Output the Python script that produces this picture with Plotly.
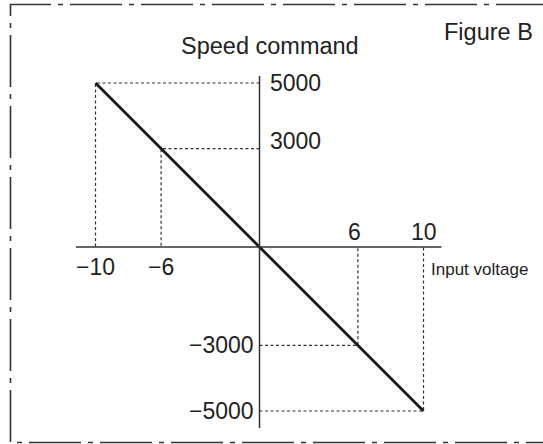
import plotly.graph_objects as go

# Input voltage (V) vs speed command (r/min) characteristic
voltage = [-10, -6, 6, 10]
speed = [5000, 3000, -3000, -5000]
line_x = [-10, 10]
line_y = [5000, -5000]
x_tick_labels = ["\u221210", "\u22126", "6", "10"]
y_tick_labels = ["5000", "3000", "\u22123000", "\u22125000"]

W, H = 543, 444
X0, XS = 259.5, 16.4       # pixel of x=0, pixels per volt
Y0, YS = 247.0, 0.0328     # pixel of y=0, pixels per r/min

x_range = [-X0 / XS, (W - X0) / XS]
y_range = [-(H - Y0) / YS, Y0 / YS]


def dx(p):
    """horizontal pixel -> volts"""
    return (p - X0) / XS


def dy(p):
    """vertical pixel -> r/min"""
    return (Y0 - p) / YS


FONT = "Liberation Sans, Arial, Helvetica, sans-serif"
INK = "#222222"

fig = go.Figure()

# dotted guide lines from each point to both axes
for v, s in zip(voltage, speed):
    fig.add_trace(go.Scatter(
        x=[0, v, v], y=[s, s, 0], mode="lines",
        line=dict(color="#333333", width=1.2, dash="3px,2.5px"),
        hoverinfo="skip", showlegend=False))

# characteristic line
fig.add_trace(go.Scatter(
    x=line_x, y=line_y, mode="lines",
    line=dict(color="#1a1a1a", width=2.8),
    showlegend=False))

# axes drawn as plain lines through the origin
fig.add_shape(type="line", x0=dx(76), x1=dx(441.5), y0=0, y1=0,
              line=dict(color="#333333", width=1.5))
fig.add_shape(type="line", x0=0, x1=0, y0=dy(428), y1=dy(76),
              line=dict(color="#333333", width=1.5))

# dash-dot frame around the figure (open on the right)
px = lambda x: x / W
py = lambda y: 1 - y / H
frame = (f"M {px(W + 5)},{py(4.5)} L {px(10.5)},{py(4.5)} "
         f"L {px(10.5)},{py(442.5)} L {px(W + 5)},{py(442.5)}")
fig.add_shape(type="path", path=frame, xref="paper", yref="paper",
              line=dict(color="#333333", width=1.6, dash="52px,7px,5px,7px"))

annotations = []
# x tick labels: negatives below the axis, positives above
for v, lab in zip(voltage, x_tick_labels):
    annotations.append(dict(
        x=v, y=0, text=lab, showarrow=False, xanchor="center",
        yanchor="top" if v < 0 else "bottom",
        yshift=-5 if v < 0 else 0,
        xshift=-3 if v == 6 else 0,
        font=dict(size=23, color=INK, family=FONT)))
# y tick labels: positives right of the axis, negatives left
for s, lab in zip(speed, y_tick_labels):
    annotations.append(dict(
        x=0, y=s, text=lab, showarrow=False,
        xanchor="left" if s > 0 else "right",
        xshift=8 if s > 0 else -4,
        yshift=8 if s == 3000 else 0,
        yanchor="middle",
        font=dict(size=23, color=INK, family=FONT)))

annotations += [
    dict(x=dx(270), y=dy(46), text="Speed command", showarrow=False,
         xanchor="center", yanchor="middle",
         font=dict(size=23.5, color=INK, family=FONT)),
    dict(x=dx(429), y=dy(269), text="Input voltage",
         showarrow=False, xanchor="left", yanchor="middle",
         font=dict(size=17, color=INK, family=FONT)),
    dict(x=px(488), y=py(32), xref="paper", yref="paper", text="Figure B",
         showarrow=False, xanchor="center", yanchor="middle",
         font=dict(size=23.5, color=INK, family=FONT)),
]

fig.update_layout(
    width=W, height=H,
    margin=dict(l=0, r=0, t=0, b=0),
    paper_bgcolor="white", plot_bgcolor="white",
    xaxis=dict(range=x_range, visible=False, fixedrange=True),
    yaxis=dict(range=y_range, visible=False, fixedrange=True),
    annotations=annotations,
    showlegend=False,
)

fig.write_html("out.html")
